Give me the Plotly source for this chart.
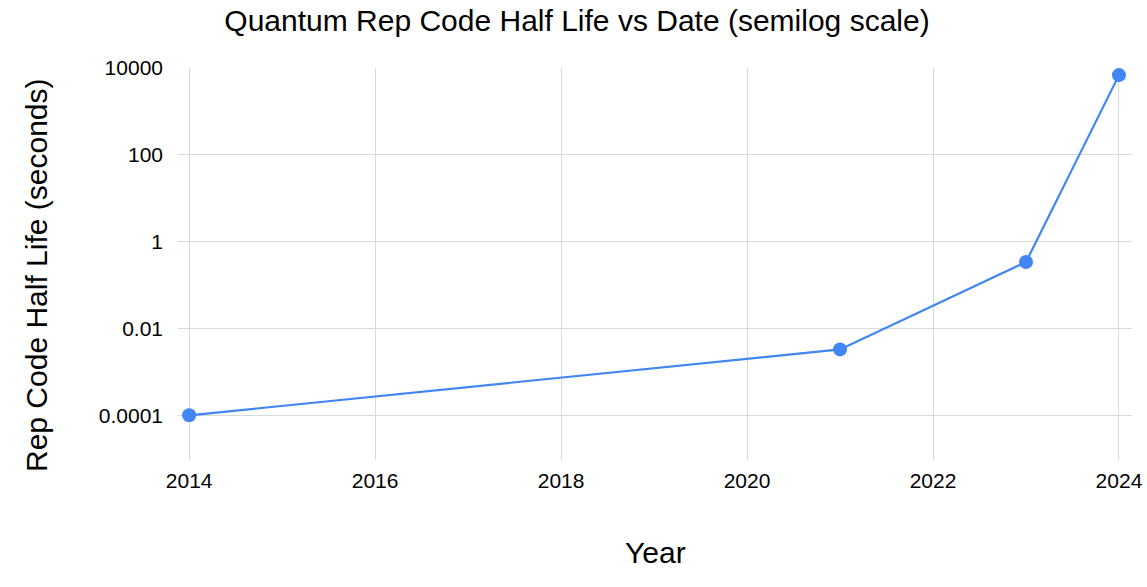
import plotly.graph_objects as go

years = [2014, 2021, 2023, 2024]
half_life = [0.0001, 0.0033, 0.34, 6900]
y_tickvals = [0.0001, 0.01, 1, 100, 10000]
y_ticktext = ["0.0001", "0.01", "1", "100", "10000"]
x_tickvals = [2014, 2016, 2018, 2020, 2022, 2024]

fig = go.Figure(go.Scatter(
    x=years, y=half_life, mode="lines+markers",
    line=dict(color="#4285F4", width=2.2),
    marker=dict(color="#4285F4", size=14),
))

W, H = 1147, 587
L, R, T, B = 178, 15, 68, 127
PW, PH = W - L - R, H - T - B
fig.update_layout(
    width=W, height=H,
    margin=dict(l=L, r=R, t=T, b=B, autoexpand=False),
    paper_bgcolor="white", plot_bgcolor="white",
    font=dict(family="Liberation Sans, Arial, sans-serif", color="#000000"),
    title=dict(text="Quantum Rep Code Half Life vs Date (semilog scale)",
               x=577 / W, xref="container", xanchor="center",
               y=1 - 20 / H, yref="container", yanchor="middle",
               font=dict(size=30)),
    showlegend=False,
)
fig.add_annotation(
    text="Rep Code Half Life (seconds)", textangle=-90,
    xref="paper", yref="paper",
    x=(36 - L) / PW, y=1 - (275 - T) / PH,
    xanchor="center", yanchor="middle", showarrow=False,
    font=dict(size=30),
)
fig.add_annotation(
    text="Year",
    xref="paper", yref="paper",
    x=0.5, y=-(552 - (H - B)) / PH,
    xanchor="center", yanchor="middle", showarrow=False,
    font=dict(size=30),
)
fig.update_xaxes(
    range=[2013.88, 2024.14], tickvals=x_tickvals,
    ticktext=[str(v) for v in x_tickvals],
    showgrid=True, gridcolor="#d9d9d9", gridwidth=1,
    zeroline=False, showline=False, ticks="", automargin=False,
    tickfont=dict(size=21), ticklabelstandoff=6,
)
fig.update_yaxes(
    type="log", range=[-5.03, 4.003], tickvals=y_tickvals, ticktext=y_ticktext,
    showgrid=True, gridcolor="#d9d9d9", gridwidth=1,
    zeroline=False, showline=False, ticks="", automargin=False,
    tickfont=dict(size=21), ticklabelstandoff=14,
)

fig.write_html(
    "out.html",
    config={"displayModeBar": False},
    post_script=(
        "document.body.style.margin='0';"
        "document.body.style.overflow='hidden';"
        "document.documentElement.style.overflow='hidden';"
    ),
)
